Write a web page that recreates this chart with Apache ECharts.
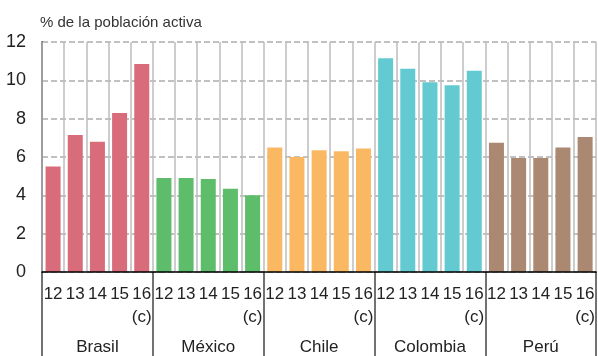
<!DOCTYPE html>
<html>
<head>
<meta charset="utf-8">
<script src="https://cdn.jsdelivr.net/npm/echarts@6/dist/echarts.min.js"></script>
<style>
  html, body { margin: 0; padding: 0; background: #fff; }
  #chart { width: 598px; height: 356px; }
</style>
</head>
<body>
<div id="chart"></div>
<script>
// Desempleo en América Latina, % de la población activa (2016 = previsión)
var countries = ['Brasil', 'México', 'Chile', 'Colombia', 'Perú'];
var years = ['12', '13', '14', '15', '16'];
var brasil   = [5.5, 7.15, 6.8, 8.3, 10.85];
var mexico   = [4.9, 4.9, 4.85, 4.35, 4.0];
var chile    = [6.5, 6.0, 6.35, 6.3, 6.45];
var colombia = [11.15, 10.6, 9.9, 9.75, 10.5];
var peru     = [6.75, 5.95, 5.95, 6.5, 7.05];
var yTicks = [0, 2, 4, 6, 8, 10, 12];
var colors = ['#d86c7b', '#5dbd6a', '#fbb862', '#64cad2', '#ab8872'];

var groups = [brasil, mexico, chile, colombia, peru];
var categories = [];
var barData = [];
groups.forEach(function (vals, g) {
  vals.forEach(function (v, i) {
    categories.push(years[i]);
    barData.push({ value: v, itemStyle: { color: colors[g] } });
  });
});

var font = '"Liberation Sans", Arial, sans-serif';
var chart = echarts.init(document.getElementById('chart'), null, { renderer: 'canvas' });

chart.setOption({
  animation: false,
  grid: { left: 42, right: 0, top: 42, bottom: 83, containLabel: false },
  title: {
    text: '% de la población activa',
    left: 35, top: 10,
    textStyle: { fontFamily: font, fontSize: 15, fontWeight: 'normal', color: '#333' }
  },
  xAxis: [
    {
      type: 'category',
      data: categories,
      position: 'bottom',
      axisLine: { show: true, lineStyle: { color: '#000', width: 1.5 } },
      axisTick: { show: false },
      axisLabel: { interval: 0, margin: 14, fontFamily: font, fontSize: 17, color: '#222' },
      splitLine: { show: true, interval: 0, lineStyle: { color: '#bdbdbd', width: 1.5 } },
      z: 3
    },
    {
      type: 'category',
      data: categories.map(function (c) { return c === '16' ? '(c)' : ''; }),
      position: 'bottom',
      axisLine: { show: false },
      axisTick: { show: false },
      axisLabel: { interval: 0, margin: 37, fontFamily: font, fontSize: 17, color: '#222' },
      splitLine: { show: false }
    },
    {
      type: 'category',
      data: countries,
      position: 'bottom',
      axisLine: { show: false },
      axisTick: { show: true, length: 90, lineStyle: { color: '#444', width: 1.5 } },
      axisLabel: { interval: 0, margin: 67, fontFamily: font, fontSize: 17, color: '#222' },
      splitLine: { show: false }
    }
  ],
  yAxis: {
    type: 'value',
    min: yTicks[0],
    max: yTicks[yTicks.length - 1],
    interval: 2,
    axisLine: { show: true, lineStyle: { color: '#000', width: 1.5 } },
    axisTick: { show: false },
    axisLabel: { margin: 16, fontFamily: font, fontSize: 18, color: '#222' },
    splitLine: { show: true, lineStyle: { color: '#adadad', width: 1.5, type: [6, 3] } }
  },
  series: [{
    type: 'bar',
    xAxisIndex: 0,
    data: barData,
    barWidth: 15,
    z: 2
  }]
});
</script>
</body>
</html>
